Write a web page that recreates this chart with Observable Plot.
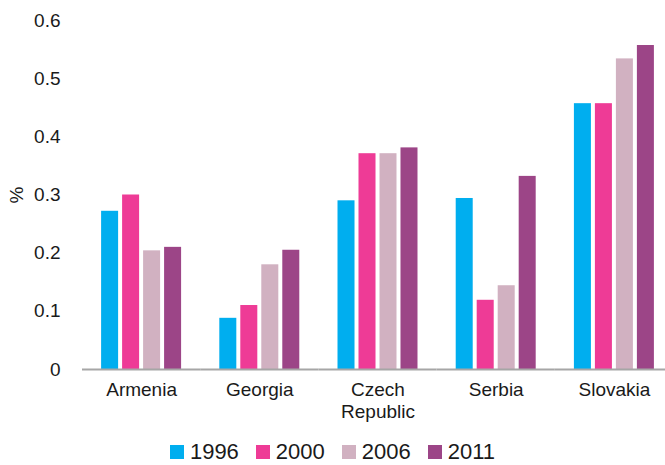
<!DOCTYPE html>
<html><head><meta charset="utf-8">
<script src="https://cdn.jsdelivr.net/npm/d3@7"></script>
<script src="https://cdn.jsdelivr.net/npm/@observablehq/plot@0.6"></script>
<style>
body{margin:0;background:#fff;font-family:"Liberation Sans",Arial,sans-serif;}
#chart{width:665px;height:465px;overflow:hidden;}
#legend{display:flex;justify-content:center;align-items:center;height:54px;font-size:22px;color:#1a1a1a;}
.item{display:flex;align-items:center;margin:0 8.5px;}
.sw{width:14px;height:14px;margin-right:6px;}
</style></head><body><div id="chart"></div>
<script>
const countries = ["Armenia", "Georgia", "Czech Republic", "Serbia", "Slovakia"];
const countryLabels = ["Armenia", "Georgia", "Czech\nRepublic", "Serbia", "Slovakia"];
const years = ["1996", "2000", "2006", "2011"];
const v1996 = [0.272, 0.088, 0.290, 0.294, 0.457];
const v2000 = [0.300, 0.110, 0.371, 0.119, 0.457];
const v2006 = [0.204, 0.180, 0.371, 0.144, 0.534];
const v2011 = [0.210, 0.205, 0.381, 0.332, 0.557];
const colors = ["#00AEEF", "#EE3B96", "#D1B1C1", "#9C4587"];
const yTicks = [0, 0.1, 0.2, 0.3, 0.4, 0.5, 0.6];

const series = [v1996, v2000, v2006, v2011];
const data = years.flatMap((yr, j) => countries.map((c, i) => ({country: c, year: yr, value: series[j][i]})));
const labelData = countries.map((c, i) => ({country: c, label: countryLabels[i]}));

const plot = Plot.plot({
  width: 665, height: 425,
  marginLeft: 82, marginRight: 0, marginTop: 20, marginBottom: 56,
  style: {fontFamily: "'Liberation Sans', Arial, sans-serif", fontSize: "19px", color: "#1a1a1a", background: "#fff", overflow: "hidden"},
  fx: {domain: countries, range: [82, 673], paddingInner: 0, paddingOuter: 0, round: false, axis: null, label: null},
  x: {domain: years, paddingInner: 0.19, paddingOuter: 0.91, round: false, axis: null},
  y: {domain: [0, 0.6], ticks: yTicks, tickFormat: d3.format("~g"), tickSize: 0, tickPadding: 22, label: "%", labelArrow: false, labelAnchor: "center", labelOffset: 73},
  color: {domain: years, range: colors},
  marks: [
    Plot.barY(data, {fx: "country", x: "year", y: "value", fill: "year"}),
    Plot.ruleY([0], {stroke: "#A6A6A6", strokeWidth: 2}),
    Plot.text(labelData, {fx: "country", text: "label", frameAnchor: "bottom", lineAnchor: "top", dy: 11, fontSize: 19, lineHeight: 1.15, fill: "#1a1a1a"})
  ]
});
const chart = document.getElementById("chart");
chart.appendChild(plot);
const color = plot.scale("color");
const legend = document.createElement("div");
legend.id = "legend";
years.forEach((yr) => {
  const item = document.createElement("div");
  item.className = "item";
  const sw = document.createElement("div");
  sw.className = "sw";
  sw.style.background = color.apply(yr);
  const t = document.createElement("span");
  t.textContent = yr;
  item.appendChild(sw); item.appendChild(t);
  legend.appendChild(item);
});
chart.appendChild(legend);
</script></body></html>
